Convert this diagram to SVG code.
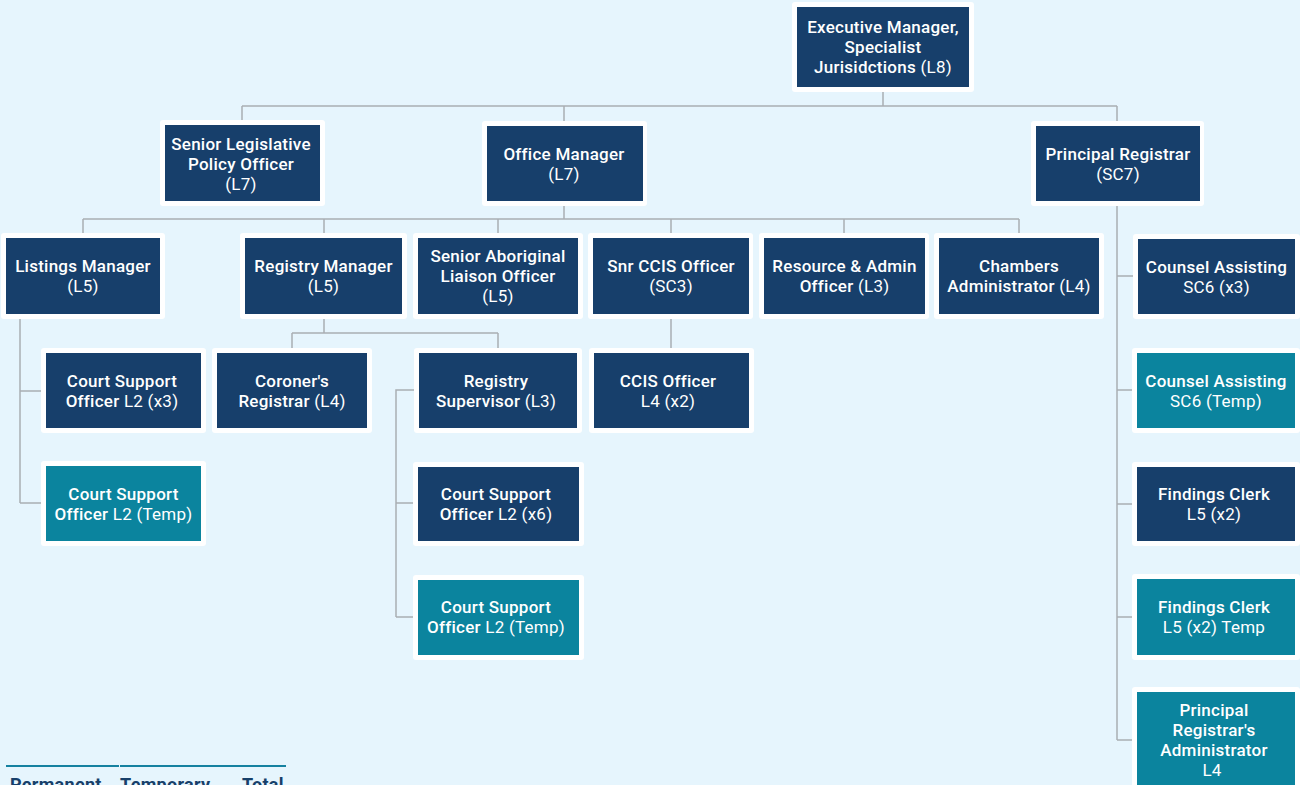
<svg xmlns="http://www.w3.org/2000/svg" width="1300" height="785" viewBox="0 0 1300 785">
<style>
.bg{fill:#e6f5fd}
.frame{fill:#ffffff}
.navy{fill:#173f6b}
.teal{fill:#0b849e}
.lbl{font-family:Roboto,"Liberation Sans",sans-serif;font-size:17px;letter-spacing:0.25px;fill:#ffffff;text-anchor:middle;font-weight:500}
.r{font-weight:400}
.conn{fill:none;stroke:#a9aeb3;stroke-width:1.5}
.th{font-family:Roboto,"Liberation Sans",sans-serif;font-size:18px;letter-spacing:0.3px;font-weight:700;fill:#17406a}
</style>
<rect class="bg" x="0" y="0" width="1300" height="785"/>
<g id="connectors">
<path class="conn" d="M883 87V106M242 106H1117M242 106V125M564 106V126M1117 106V126"/>
<path class="conn" d="M564 201V219M83 219H1019M83 219V238M324 219V238M498 219V238M671 219V238M844 219V238M1019 219V238"/>
<path class="conn" d="M20 314V503M20 391H46M20 503H46"/>
<path class="conn" d="M324 314V333M292 333H498M292 333V353M498 333V353"/>
<path class="conn" d="M419 390H396V617M396 503H418M396 617H418"/>
<path class="conn" d="M671 314V353"/>
<path class="conn" d="M1117 201V740M1117 276H1138M1117 390H1138M1117 504H1138M1117 617H1138M1117 740H1137"/>
</g>
<g id="exec"><rect class="frame" x="792" y="2" width="182" height="90" rx="3"/><rect class="navy" x="797" y="7" width="172" height="80"/>
<text class="lbl"><tspan x="883" y="33">Executive Manager,</tspan><tspan x="883" y="53">Specialist</tspan><tspan x="883" y="73">Jurisidctions <tspan class="r">(L8)</tspan></tspan></text></g>
<g id="senior-legislative"><rect class="frame" x="160" y="120" width="165" height="86" rx="3"/><rect class="navy" x="165" y="125" width="155" height="76"/>
<text class="lbl"><tspan x="241" y="150">Senior Legislative</tspan><tspan x="241" y="170">Policy Officer</tspan><tspan x="241" y="190" class="r">(L7)</tspan></text></g>
<g id="office-manager"><rect class="frame" x="482" y="121" width="165" height="85" rx="3"/><rect class="navy" x="487" y="126" width="156" height="75"/>
<text class="lbl"><tspan x="564" y="160">Office Manager</tspan><tspan x="564" y="180" class="r">(L7)</tspan></text></g>
<g id="principal-registrar"><rect class="frame" x="1031" y="121" width="173" height="85" rx="3"/><rect class="navy" x="1036" y="126" width="164" height="75"/>
<text class="lbl"><tspan x="1118" y="160">Principal Registrar</tspan><tspan x="1118" y="180" class="r">(SC7)</tspan></text></g>
<g id="listings-manager"><rect class="frame" x="1" y="233" width="164" height="86" rx="3"/><rect class="navy" x="6" y="238" width="154" height="76"/>
<text class="lbl"><tspan x="83" y="272">Listings Manager</tspan><tspan x="83" y="292" class="r">(L5)</tspan></text></g>
<g id="registry-manager"><rect class="frame" x="240" y="233" width="167" height="86" rx="3"/><rect class="navy" x="245" y="238" width="157" height="76"/>
<text class="lbl"><tspan x="323.5" y="272">Registry Manager</tspan><tspan x="323.5" y="292" class="r">(L5)</tspan></text></g>
<g id="senior-aboriginal"><rect class="frame" x="413" y="233" width="170" height="86" rx="3"/><rect class="navy" x="418" y="238" width="160" height="76"/>
<text class="lbl"><tspan x="498" y="262">Senior Aboriginal</tspan><tspan x="498" y="282">Liaison Officer</tspan><tspan x="498" y="302" class="r">(L5)</tspan></text></g>
<g id="snr-ccis"><rect class="frame" x="588" y="233" width="165" height="86" rx="3"/><rect class="navy" x="593" y="238" width="156" height="76"/>
<text class="lbl"><tspan x="671" y="272">Snr CCIS Officer</tspan><tspan x="671" y="292" class="r">(SC3)</tspan></text></g>
<g id="resource-admin"><rect class="frame" x="759" y="233" width="170" height="86" rx="3"/><rect class="navy" x="764" y="238" width="161" height="76"/>
<text class="lbl"><tspan x="844.5" y="272">Resource &amp; Admin</tspan><tspan x="844.5" y="292">Officer <tspan class="r">(L3)</tspan></tspan></text></g>
<g id="chambers-admin"><rect class="frame" x="934" y="233" width="170" height="86" rx="3"/><rect class="navy" x="939" y="238" width="160" height="76"/>
<text class="lbl"><tspan x="1019" y="272">Chambers</tspan><tspan x="1019" y="292">Administrator <tspan class="r">(L4)</tspan></tspan></text></g>
<g id="counsel-assisting"><rect class="frame" x="1133" y="234" width="167" height="85" rx="3"/><rect class="navy" x="1138" y="239" width="157" height="75"/>
<text class="lbl"><tspan x="1216.5" y="273">Counsel Assisting</tspan><tspan x="1216.5" y="293" class="r">SC6 (x3)</tspan></text></g>
<g id="cso-listings"><rect class="frame" x="41" y="348" width="165" height="85" rx="3"/><rect class="navy" x="46" y="353" width="155" height="75"/>
<text class="lbl"><tspan x="122" y="387">Court Support</tspan><tspan x="122" y="407">Officer <tspan class="r">L2 (x3)</tspan></tspan></text></g>
<g id="cso-listings-temp"><rect class="frame" x="41" y="461" width="165" height="85" rx="3"/><rect class="teal" x="46" y="466" width="155" height="75"/>
<text class="lbl"><tspan x="123.5" y="500">Court Support</tspan><tspan x="123.5" y="520">Officer <tspan class="r">L2 (Temp)</tspan></tspan></text></g>
<g id="coroners-registrar"><rect class="frame" x="212" y="348" width="160" height="85" rx="3"/><rect class="navy" x="217" y="353" width="150" height="75"/>
<text class="lbl"><tspan x="292" y="387">Coroner's</tspan><tspan x="292" y="407">Registrar <tspan class="r">(L4)</tspan></tspan></text></g>
<g id="registry-supervisor"><rect class="frame" x="414" y="348" width="168" height="85" rx="3"/><rect class="navy" x="419" y="353" width="158" height="75"/>
<text class="lbl"><tspan x="496" y="387">Registry</tspan><tspan x="496" y="407">Supervisor <tspan class="r">(L3)</tspan></tspan></text></g>
<g id="ccis-officer"><rect class="frame" x="589" y="348" width="165" height="85" rx="3"/><rect class="navy" x="594" y="353" width="155" height="75"/>
<text class="lbl"><tspan x="668" y="387">CCIS Officer</tspan><tspan x="668" y="407" class="r">L4 (x2)</tspan></text></g>
<g id="cso-registry"><rect class="frame" x="413" y="462" width="171" height="84" rx="3"/><rect class="navy" x="418" y="467" width="161" height="74"/>
<text class="lbl"><tspan x="496" y="500">Court Support</tspan><tspan x="496" y="520">Officer <tspan class="r">L2 (x6)</tspan></tspan></text></g>
<g id="cso-registry-temp"><rect class="frame" x="413" y="575" width="171" height="85" rx="3"/><rect class="teal" x="418" y="580" width="161" height="75"/>
<text class="lbl"><tspan x="496" y="613">Court Support</tspan><tspan x="496" y="633">Officer <tspan class="r">L2 (Temp)</tspan></tspan></text></g>
<g id="counsel-assisting-temp"><rect class="frame" x="1132" y="348" width="168" height="85" rx="3"/><rect class="teal" x="1137" y="353" width="158" height="75"/>
<text class="lbl"><tspan x="1216" y="387">Counsel Assisting</tspan><tspan x="1216" y="407" class="r">SC6 (Temp)</tspan></text></g>
<g id="findings-clerk"><rect class="frame" x="1132" y="462" width="168" height="84" rx="3"/><rect class="navy" x="1137" y="467" width="158" height="74"/>
<text class="lbl"><tspan x="1214" y="500">Findings Clerk</tspan><tspan x="1214" y="520" class="r">L5 (x2)</tspan></text></g>
<g id="findings-clerk-temp"><rect class="frame" x="1132" y="574" width="168" height="86" rx="3"/><rect class="teal" x="1137" y="579" width="158" height="76"/>
<text class="lbl"><tspan x="1214" y="613">Findings Clerk</tspan><tspan x="1214" y="633" class="r">L5 (x2) Temp</tspan></text></g>
<g id="pr-administrator"><rect class="frame" x="1132" y="687" width="168" height="110" rx="3"/><rect class="teal" x="1137" y="692" width="158" height="100"/>
<text class="lbl"><tspan x="1214" y="716">Principal</tspan><tspan x="1214" y="736">Registrar's</tspan><tspan x="1214" y="756">Administrator</tspan><tspan x="1212" y="776" class="r">L4</tspan></text></g>
<g id="summary-table">
<path d="M6 766H119M120 766H286" stroke="#1581a0" stroke-width="2"/>
<text class="th" x="10" y="791">Permanent</text>
<text class="th" x="120" y="791">Temporary</text>
<text class="th" x="242" y="791">Total</text>
</g>
</svg>
